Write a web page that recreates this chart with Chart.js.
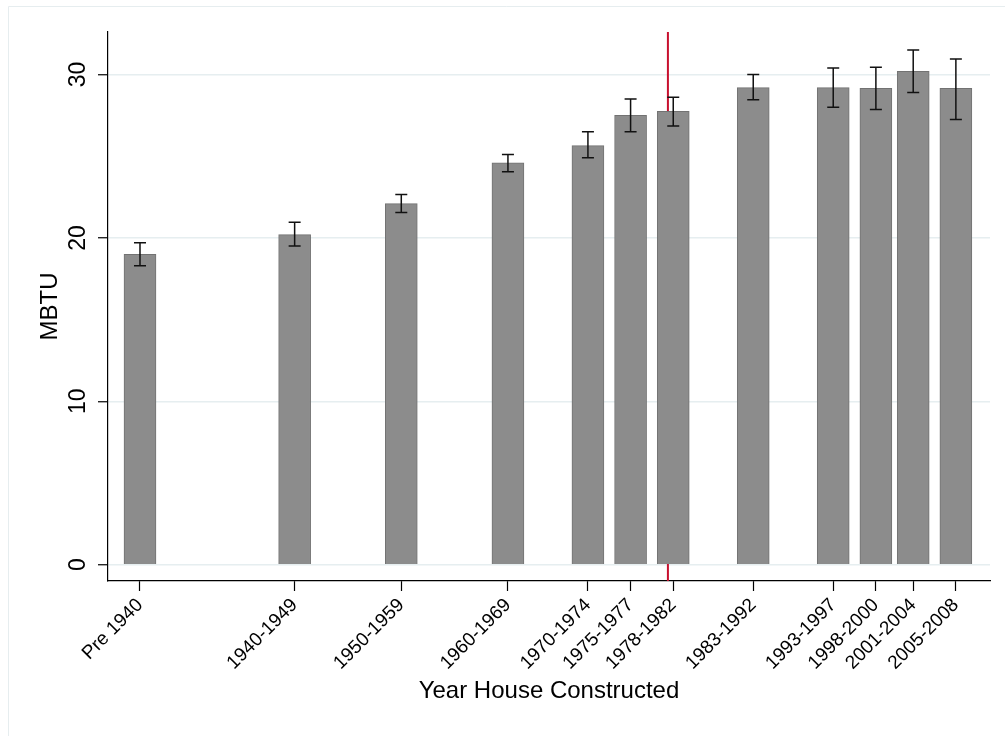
<!DOCTYPE html>
<html>
<head>
<meta charset="utf-8">
<script src="https://cdn.jsdelivr.net/npm/chart.js@4.4.1/dist/chart.umd.min.js"></script>
<style>
  body { margin: 0; background: #fff; }
  #wrap { width: 1005px; height: 736px; position: relative; }
</style>
</head>
<body>
<div id="wrap"><canvas id="myChart"></canvas></div>
<script>
// construction period labels and where they sit on the year axis
var categories = ['Pre 1940', '1940-1949', '1950-1959', '1960-1969', '1970-1974', '1975-1977',
    '1978-1982', '1983-1992', '1993-1997', '1998-2000', '2001-2004', '2005-2008'];
var yearPos = [1930.5, 1945, 1955, 1965, 1972.5, 1976.5, 1980.5, 1988, 1995.5, 1999.5, 2003, 2007];

// mean MBTU and confidence interval ends
var meanUse = [19.0, 20.2, 22.1, 24.6, 25.65, 27.5, 27.75, 29.2, 29.2, 29.15, 30.2, 29.15];
var ciLow = [18.3, 19.5, 21.55, 24.05, 24.9, 26.5, 26.85, 28.45, 28.0, 27.85, 28.9, 27.25];
var ciHigh = [19.7, 20.95, 22.65, 25.1, 26.5, 28.5, 28.6, 30.0, 30.4, 30.45, 31.5, 30.95];

var yTicks = [0, 10, 20, 30];
var cutYear = 1980;

var FONT = '"Liberation Sans", Arial, Helvetica, sans-serif';

var extras = {
    id: 'extras',
    beforeDraw: function (chart) {
        var ctx = chart.ctx;
        ctx.save();
        ctx.fillStyle = '#fff';
        ctx.fillRect(0, 0, chart.width, chart.height);
        // faint outer frame of the graph region
        ctx.strokeStyle = '#e6edef';
        ctx.lineWidth = 1;
        ctx.beginPath();
        ctx.moveTo(8.5, chart.height);
        ctx.lineTo(8.5, 6.5);
        ctx.lineTo(chart.width, 6.5);
        ctx.stroke();
        ctx.restore();
    },
    beforeDatasetsDraw: function (chart) {
        var ctx = chart.ctx;
        var area = chart.chartArea;
        var x = chart.scales.x.getPixelForValue(cutYear);
        ctx.save();
        ctx.strokeStyle = '#c8102e';
        ctx.lineWidth = 2;
        ctx.beginPath();
        ctx.moveTo(x, area.top);
        ctx.lineTo(x, area.bottom);
        ctx.stroke();
        ctx.restore();
    },
    afterDatasetsDraw: function (chart) {
        var ctx = chart.ctx;
        var xs = chart.scales.x, ys = chart.scales.y;
        ctx.save();
        ctx.strokeStyle = '#111';
        ctx.lineWidth = 1.5;
        for (var i = 0; i < yearPos.length; i++) {
            var x = xs.getPixelForValue(yearPos[i]);
            var lo = ys.getPixelForValue(ciLow[i]);
            var hi = ys.getPixelForValue(ciHigh[i]);
            ctx.beginPath();
            ctx.moveTo(x, lo);
            ctx.lineTo(x, hi);
            ctx.moveTo(x - 6, lo);
            ctx.lineTo(x + 6, lo);
            ctx.moveTo(x - 6, hi);
            ctx.lineTo(x + 6, hi);
            ctx.stroke();
        }
        ctx.restore();
    },
    afterDraw: function (chart) {
        // y tick labels, turned like the stata ones
        var ctx = chart.ctx;
        var ys = chart.scales.y;
        ctx.save();
        ctx.fillStyle = '#000';
        ctx.font = '23px ' + FONT;
        ctx.textAlign = 'center';
        ctx.textBaseline = 'middle';
        yTicks.forEach(function (v) {
            ctx.save();
            ctx.translate(79, ys.getPixelForValue(v));
            ctx.rotate(-Math.PI / 2);
            ctx.fillText(String(v), 0, 0);
            ctx.restore();
        });
        ctx.restore();
    }
};

var chart = new Chart(document.querySelector('#myChart'), {
    type: 'bar',
    data: {
        datasets: [{
            data: yearPos.map(function (x, i) { return { x: x, y: meanUse[i] }; }),
            backgroundColor: '#8c8c8c',
            borderColor: '#727272',
            borderWidth: 1,
            barThickness: 32
        }]
    },
    options: {
        responsive: true,
        maintainAspectRatio: false,
        animation: false,
        layout: { padding: { left: 36, right: 15, top: 32, bottom: 30 } },
        plugins: { legend: { display: false }, tooltip: { enabled: false } },
        scales: {
            x: {
                type: 'linear',
                min: 1927.5,
                max: 2010.2,
                offset: false,
                afterBuildTicks: function (s) { s.ticks = yearPos.map(function (v) { return { value: v }; }); },
                afterFit: function (s) { s.height = 125; },
                ticks: {
                    autoSkip: false,
                    minRotation: 45,
                    maxRotation: 45,
                    padding: 3,
                    color: '#000',
                    font: { family: FONT, size: 19 },
                    callback: function (v, i) { return categories[i]; }
                },
                grid: { drawOnChartArea: false, offset: false, tickLength: 10, tickColor: '#000', tickWidth: 1.2 },
                border: { color: '#000', width: 1.2 },
                title: { display: true, text: 'Year House Constructed', color: '#000', font: { family: FONT, size: 24 }, padding: 0 }
            },
            y: {
                min: -1,
                max: 32.6,
                afterBuildTicks: function (s) { s.ticks = yTicks.map(function (v) { return { value: v }; }); },
                afterFit: function (s) { s.width = 72; },
                ticks: { display: false },
                grid: { color: '#e6eef0', lineWidth: 1.5, tickLength: 10, tickColor: '#000', tickWidth: 1.2 },
                border: { color: '#000', width: 1.2 },
                title: { display: true, text: 'MBTU', color: '#000', font: { family: FONT, size: 24 }, padding: 0 }
            }
        }
    },
    plugins: [extras]
});
</script>
</body>
</html>
